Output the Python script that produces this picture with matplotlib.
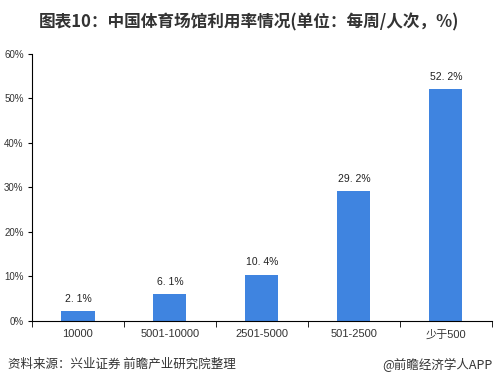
import matplotlib.pyplot as plt
import numpy as np

plt.rcParams['font.family'] = ['Noto Sans CJK SC', 'DejaVu Sans']

BLUE = "#3F84E0"
DARK = "#333333"
LATIN = ['Liberation Sans', 'Noto Sans CJK SC']

categories = ['10000', '5001-10000', '2501-5000', '501-2500', '少于500']
values = [2.1, 6.1, 10.4, 29.2, 52.2]
labels = ['2. 1%', '6. 1%', '10. 4%', '29. 2%', '52. 2%']
yticks = [0, 10, 20, 30, 40, 50, 60]

fig = plt.figure(figsize=(4.95, 3.86), dpi=100)
ax = fig.add_axes([0.0646, 0.169, 0.929, 0.691])

x = np.arange(len(categories))
ax.bar(x, values, width=0.36, color=BLUE)
for xi, v, lab in zip(x, values, labels):
    ax.text(xi, v + 1.6, lab, ha='center', va='bottom', fontsize=7.5, color='#222222',
            family=LATIN)

ax.set_xlim(-0.5, len(categories) - 0.5)
ax.set_ylim(0, 60)
ax.set_yticks(yticks)
ax.set_yticklabels([f'{t}%' for t in yticks], fontsize=7, color=DARK, family=LATIN)
ax.set_xticks(x)
ax.set_xticklabels(categories, fontsize=8, color=DARK, family=LATIN)
ax.tick_params(axis='x', length=0, pad=6)
ax.set_xticks(np.arange(len(categories) + 1) - 0.5, minor=True)
ax.tick_params(axis='x', which='minor', length=4, direction='out', color='black')
ax.tick_params(axis='y', length=3, direction='out', pad=3)
for s in ['top', 'right']:
    ax.spines[s].set_visible(False)
ax.spines['left'].set_linewidth(0.8)
ax.spines['bottom'].set_linewidth(0.8)

fig.text(0.502, 0.943, '图表10：中国体育场馆利用率情况(单位：每周/人次，%)', ha='center', va='center',
         fontsize=12, fontweight='bold', color=DARK)
fig.text(0.016, 0.055, '资料来源：兴业证券 前瞻产业研究院整理', ha='left', va='center',
         fontsize=9, color=DARK)
fig.text(0.994, 0.055, '@前瞻经济学人APP', ha='right', va='center', fontsize=9, color=DARK)

fig.savefig('out.png', dpi=100)
